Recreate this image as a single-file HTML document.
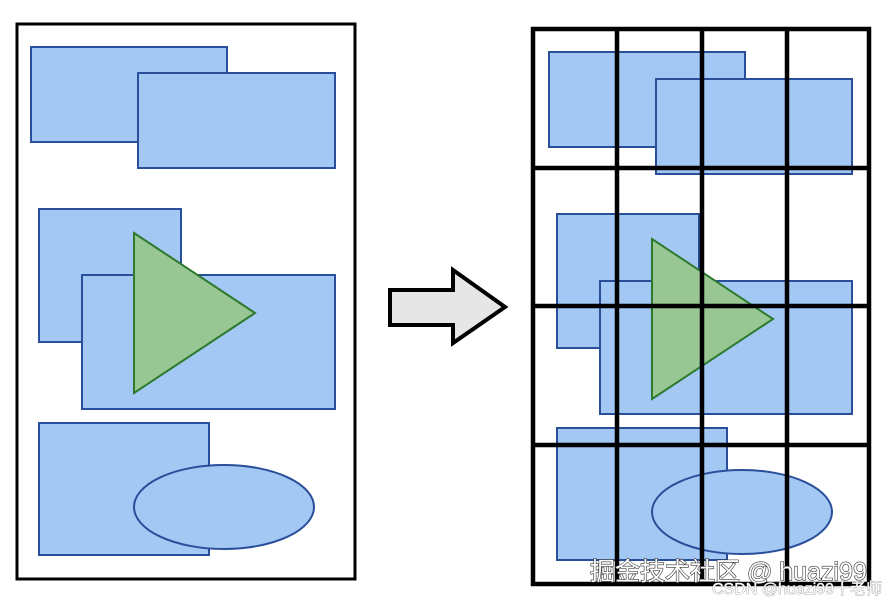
<!DOCTYPE html>
<html><head><meta charset="utf-8"><style>
html,body{margin:0;padding:0;background:#fff;width:887px;height:602px;overflow:hidden}
</style></head><body>
<svg width="887" height="602" viewBox="0 0 887 602" xmlns="http://www.w3.org/2000/svg">
<g fill="#a4c8f4" stroke="#2a4f9a" stroke-width="2">
<rect x="31" y="47" width="196" height="95"/>
<rect x="138" y="73" width="197" height="95"/>
<rect x="39" y="209" width="142" height="133"/>
<rect x="82" y="275" width="253" height="134"/>
<rect x="39" y="423" width="170" height="132"/>
<ellipse cx="224" cy="507" rx="90" ry="42"/>
</g>
<polygon points="134,233 255,313 134,393" fill="#99c794" stroke="#2d7a2d" stroke-width="2"/>
<rect x="17" y="24" width="338" height="555" fill="none" stroke="#000" stroke-width="3"/>
<polygon points="390,290 453,290 453,270 505,307 453,343 453,325 390,325" fill="#e6e6e6" stroke="#000" stroke-width="4" stroke-linejoin="miter"/>
<g fill="#a4c8f4" stroke="#2a4f9a" stroke-width="2">
<rect x="549" y="52" width="196" height="95"/>
<rect x="656" y="79" width="196" height="95"/>
<rect x="557" y="214" width="142" height="134"/>
<rect x="600" y="281" width="252" height="133"/>
<rect x="557" y="428" width="170" height="132"/>
<ellipse cx="742" cy="512" rx="90" ry="42"/>
</g>
<polygon points="652,239 773,319 652,399" fill="#99c794" stroke="#2d7a2d" stroke-width="2"/>
<g stroke="#000" stroke-width="4.5" fill="none">
<rect x="533" y="29" width="336" height="555"/>
<line x1="617" y1="29" x2="617" y2="584"/>
<line x1="702" y1="29" x2="702" y2="584"/>
<line x1="787" y1="29" x2="787" y2="584"/>
<line x1="533" y1="168" x2="869" y2="168"/>
<line x1="533" y1="306" x2="869" y2="306"/>
<line x1="533" y1="445" x2="869" y2="445"/>
</g>
<text x="590" y="580" font-family="Liberation Sans, Noto Sans CJK SC, sans-serif" font-size="25" fill="#fff" stroke="#333" stroke-width="1.2" paint-order="stroke">掘金技术社区 @ huazi99</text>
<text x="712" y="594" font-family="Liberation Sans, Noto Sans CJK SC, sans-serif" font-size="16" fill="#fff" stroke="#999" stroke-width="0.8" paint-order="stroke">CSDN @huazi99十老师</text>
</svg>
</body></html>
